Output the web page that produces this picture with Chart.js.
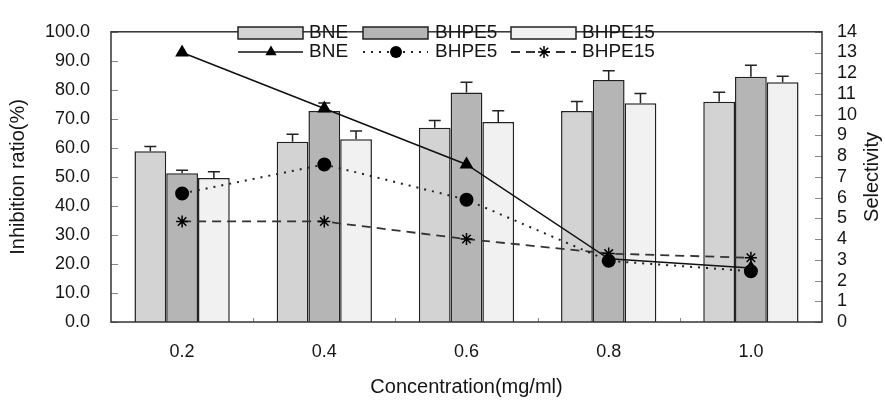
<!DOCTYPE html>
<html>
<head>
<meta charset="utf-8">
<script src="https://cdn.jsdelivr.net/npm/chart.js@4.4.1/dist/chart.umd.min.js"></script>
<style>
  html, body { margin: 0; padding: 0; background: #fff; }
  #wrap { width: 885px; height: 401px; position: relative; }
</style>
</head>
<body>
<div id="wrap"><canvas id="c" width="885" height="401"></canvas></div>
<script>
// ---- data ----
const categories = ['0.2', '0.4', '0.6', '0.8', '1.0'];
const bneInhibition   = [58.8, 62.1, 66.9, 72.7, 75.9];
const bhpe5Inhibition = [51.3, 72.7, 79.1, 83.4, 84.5];
const bhpe15Inhibition = [49.6, 63.0, 68.9, 75.4, 82.6];
const bneError   = [1.7, 2.6, 2.5, 3.3, 3.3];
const bhpe5Error = [1.0, 2.8, 3.5, 3.2, 4.0];
const bhpe15Error = [2.2, 2.8, 3.9, 3.3, 2.1];
const bneSelectivity   = [13.0, 10.3, 7.6, 3.05, 2.6];
const bhpe5Selectivity = [6.2, 7.6, 5.9, 2.95, 2.45];
const bhpe15Selectivity = [4.85, 4.85, 4.0, 3.3, 3.1];
const leftTicks = [0, 10, 20, 30, 40, 50, 60, 70, 80, 90, 100];
const rightTicks = [0, 1, 2, 3, 4, 5, 6, 7, 8, 9, 10, 11, 12, 13, 14];
const seriesNames = ['BNE', 'BHPE5', 'BHPE15'];

const FONT = "'Liberation Sans', Arial, Helvetica, sans-serif";
const TXT = '#151515';
const barColors = ['#d3d3d3', '#b5b5b5', '#f1f1f1'];
const errors = [bneError, bhpe5Error, bhpe15Error];

const errorBarPlugin = {
  id: 'errorBars',
  afterDatasetDraw(chart, args) {
    const i = args.index;
    if (i > 2) return;
    const meta = chart.getDatasetMeta(i);
    const y = chart.scales.y;
    const ctx = chart.ctx;
    ctx.save();
    ctx.strokeStyle = '#222';
    ctx.lineWidth = 1.5;
    meta.data.forEach((bar, k) => {
      const v = chart.data.datasets[i].data[k];
      const top = y.getPixelForValue(v + errors[i][k]);
      ctx.beginPath();
      ctx.moveTo(bar.x, bar.y);
      ctx.lineTo(bar.x, top);
      ctx.moveTo(bar.x - 6, top);
      ctx.lineTo(bar.x + 6, top);
      ctx.stroke();
    });
    ctx.restore();
  }
};

function drawMarker(ctx, style, x, y, r) {
  ctx.save();
  ctx.fillStyle = '#000';
  ctx.strokeStyle = '#000';
  ctx.lineWidth = 1.5;
  ctx.setLineDash([]);
  ctx.beginPath();
  if (style === 'triangle') {
    let a = 0;
    ctx.moveTo(x + Math.sin(a) * r, y - Math.cos(a) * r);
    a += 2 * Math.PI / 3;
    ctx.lineTo(x + Math.sin(a) * r, y - Math.cos(a) * r);
    a += 2 * Math.PI / 3;
    ctx.lineTo(x + Math.sin(a) * r, y - Math.cos(a) * r);
    ctx.closePath();
    ctx.fill();
  } else if (style === 'circle') {
    ctx.arc(x, y, r, 0, Math.PI * 2);
    ctx.fill();
  } else {
    for (let k = 0; k < 4; k++) {
      const a = k * Math.PI / 4;
      ctx.moveTo(x - Math.cos(a) * r, y - Math.sin(a) * r);
      ctx.lineTo(x + Math.cos(a) * r, y + Math.sin(a) * r);
    }
    ctx.stroke();
  }
  ctx.restore();
}

const framePlugin = {
  id: 'frame',
  afterDraw(chart) {
    const {ctx, chartArea: a, scales} = chart;
    ctx.save();
    // inward ticks
    ctx.strokeStyle = '#888';
    ctx.lineWidth = 1;
    leftTicks.forEach(v => {
      const py = Math.round(scales.y.getPixelForValue(v)) + 0.5;
      ctx.beginPath(); ctx.moveTo(a.left, py); ctx.lineTo(a.left + 7, py); ctx.stroke();
    });
    rightTicks.forEach(v => {
      const py = Math.round(scales.y1.getPixelForValue(v)) + 0.5;
      ctx.beginPath(); ctx.moveTo(a.right - 7, py); ctx.lineTo(a.right, py); ctx.stroke();
    });
    for (let k = 1; k < categories.length; k++) {
      const px = Math.round((scales.x.getPixelForValue(k - 1) + scales.x.getPixelForValue(k)) / 2) + 0.5;
      ctx.beginPath(); ctx.moveTo(px, a.bottom); ctx.lineTo(px, a.bottom - 4); ctx.stroke();
    }
    // frame
    ctx.strokeStyle = '#333';
    ctx.lineWidth = 1.5;
    ctx.strokeRect(a.left, a.top, a.right - a.left, a.bottom - a.top);
    // right axis title
    ctx.fillStyle = TXT;
    ctx.font = '20px ' + FONT;
    ctx.textAlign = 'center';
    ctx.textBaseline = 'middle';
    ctx.translate(872, (a.top + a.bottom) / 2);
    ctx.rotate(-Math.PI / 2);
    ctx.fillText('Selectivity', 0, 0);
    ctx.restore();

    // legend
    ctx.save();
    const boxX = [238, 363, 511];
    const textX = [309, 435, 582];
    const row1 = 33, row2 = 52;
    ctx.font = '19px ' + FONT;
    ctx.textBaseline = 'middle';
    ctx.textAlign = 'left';
    const lineDs = chart.data.datasets.slice(3);
    for (let k = 0; k < 3; k++) {
      ctx.fillStyle = barColors[k];
      ctx.fillRect(boxX[k], row1 - 6, 65, 12);
      ctx.strokeStyle = '#222';
      ctx.lineWidth = 1.5;
      ctx.setLineDash([]);
      ctx.strokeRect(boxX[k], row1 - 6, 65, 12);
      ctx.fillStyle = TXT;
      ctx.fillText(seriesNames[k], textX[k], row1);
      // line sample
      const ds = lineDs[k];
      ctx.strokeStyle = ds.borderColor;
      ctx.lineWidth = ds.borderWidth;
      ctx.setLineDash(ds.borderDash || []);
      ctx.beginPath();
      ctx.moveTo(boxX[k], row2);
      ctx.lineTo(boxX[k] + 65, row2);
      ctx.stroke();
      drawMarker(ctx, ds.pointStyle, boxX[k] + 33, row2, ds.pointRadius);
      ctx.fillStyle = TXT;
      ctx.fillText(seriesNames[k], textX[k], row2);
    }
    ctx.restore();
  }
};

new Chart(document.getElementById('c'), {
  type: 'bar',
  data: {
    labels: categories,
    datasets: [
      { type: 'bar', label: 'BNE', data: bneInhibition, yAxisID: 'y', backgroundColor: barColors[0], borderColor: '#222', borderWidth: 1.5, order: 2 },
      { type: 'bar', label: 'BHPE5', data: bhpe5Inhibition, yAxisID: 'y', backgroundColor: barColors[1], borderColor: '#222', borderWidth: 1.5, order: 2 },
      { type: 'bar', label: 'BHPE15', data: bhpe15Inhibition, yAxisID: 'y', backgroundColor: barColors[2], borderColor: '#222', borderWidth: 1.5, order: 2 },
      { type: 'line', label: 'BNE', data: bneSelectivity, yAxisID: 'y1', borderColor: '#111', borderWidth: 1.5, pointStyle: 'triangle', pointRadius: 6.5, pointBackgroundColor: '#000', pointBorderColor: '#000', order: 1 },
      { type: 'line', label: 'BHPE5', data: bhpe5Selectivity, yAxisID: 'y1', borderColor: '#222', borderWidth: 2, borderDash: [2, 6], pointStyle: 'circle', pointRadius: 6, pointBackgroundColor: '#000', pointBorderColor: '#000', order: 1 },
      { type: 'line', label: 'BHPE15', data: bhpe15Selectivity, yAxisID: 'y1', borderColor: '#333', borderWidth: 1.8, borderDash: [9, 6], pointStyle: 'star', pointRadius: 6, pointBackgroundColor: '#000', pointBorderColor: '#000', pointBorderWidth: 1.5, order: 1 }
    ]
  },
  options: {
    responsive: false,
    animation: false,
    devicePixelRatio: 1,
    layout: { padding: { top: 20, left: 0, right: 0, bottom: 0 } },
    datasets: { bar: { categoryPercentage: 0.67, barPercentage: 1.0 } },
    plugins: { legend: { display: false }, tooltip: { enabled: false } },
    scales: {
      x: {
        grid: { display: false, drawTicks: false },
        border: { display: false },
        ticks: { color: TXT, font: { family: FONT, size: 18 }, padding: 19 },
        title: { display: true, text: 'Concentration(mg/ml)', color: TXT, font: { family: FONT, size: 20 }, padding: { top: 0, bottom: 2 } },
        afterFit(s) { s.height = 79; }
      },
      y: {
        position: 'left',
        min: 0, max: 100,
        afterBuildTicks(s) { s.ticks = leftTicks.map(v => ({ value: v })); },
        grid: { display: false, drawTicks: false },
        border: { display: false },
        ticks: { color: TXT, font: { family: FONT, size: 18 }, padding: 21, autoSkip: false, callback: v => Number(v).toFixed(1) },
        title: { display: true, text: 'Inhibition ratio(%)', color: TXT, font: { family: FONT, size: 20 }, padding: { top: 6, bottom: 0 } },
        afterFit(s) { s.width = 111; }
      },
      y1: {
        position: 'right',
        min: 0, max: 14,
        afterBuildTicks(s) { s.ticks = rightTicks.map(v => ({ value: v })); },
        grid: { display: false, drawTicks: false },
        border: { display: false },
        ticks: { color: TXT, font: { family: FONT, size: 18 }, padding: 15, autoSkip: false },
        afterFit(s) { s.width = 63; }
      }
    }
  },
  plugins: [errorBarPlugin, framePlugin]
});
</script>
</body>
</html>
